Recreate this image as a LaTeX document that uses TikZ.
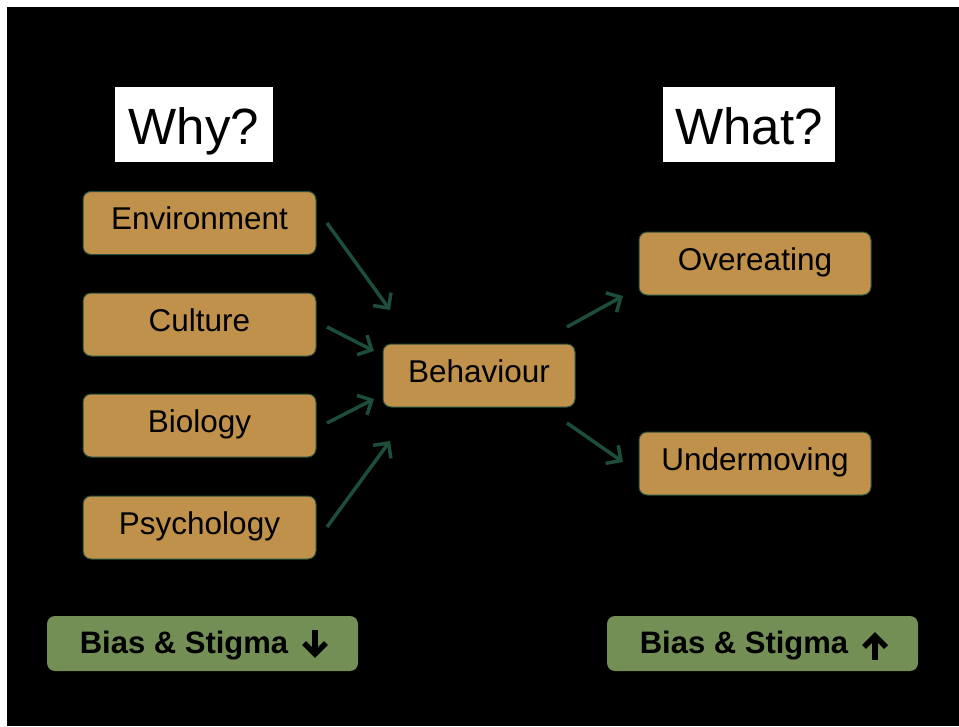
\documentclass[tikz,border=0pt]{standalone}
\usepackage{fontspec}
\setmainfont{Liberation Sans}
\usetikzlibrary{arrows.meta}
\definecolor{tan}{RGB}{192,145,74}
\definecolor{edgegreen}{RGB}{35,80,60}
\definecolor{arrowgreen}{RGB}{28,78,58}
\definecolor{biasgreen}{RGB}{115,143,86}
\tikzset{
  factor/.style={draw=edgegreen, line width=1pt, fill=tan, rounded corners=8pt,
    minimum width=233pt, minimum height=63pt, inner sep=0pt,
    text height=22pt, text depth=9pt,
    font=\fontsize{31.5}{36}\selectfont, text=black},
  headbox/.style={fill=white, inner sep=0pt, minimum height=75pt,
    text height=40pt, text depth=1pt,
    font=\fontsize{51}{60}\selectfont, text=black},
  biasbox/.style={fill=biasgreen, rounded corners=8pt, minimum width=311pt,
    minimum height=55pt, inner sep=0pt},
  biastext/.style={font=\fontsize{31}{36}\selectfont\bfseries, text=black, inner sep=0pt,
    text height=22pt, text depth=3pt},
  flow/.style={draw=arrowgreen, line width=3.5pt,
    -{Straight Barb[length=11pt,width=22pt,line width=3.5pt]}},
  bigarrow/.style={draw=black, line width=5.5pt, miter limit=10}
}
\begin{document}
\begin{tikzpicture}[x=1pt,y=-1pt]
\fill[white] (0,0) rectangle (959,726);
\fill[black] (7,7) rectangle (959,726);
\useasboundingbox (0,0) rectangle (959,726);

\node[headbox, minimum width=158pt] (why) at (194,124.5) {Why?};
\node[headbox, minimum width=172pt] (what) at (749,124.5) {What?};

\node[factor] (env) at (199.5,223) {Environment};
\node[factor] (cul) at (199.5,324.5) {Culture};
\node[factor] (bio) at (199.5,425.5) {Biology};
\node[factor] (psy) at (199.5,527.5) {Psychology};

\node[factor, minimum width=192pt] (beh) at (479,375.5) {Behaviour};

\node[factor, minimum width=232pt] (over) at (755,263.5) {Overeating};
\node[factor, minimum width=232pt] (under) at (755,463.5) {Undermoving};

% arrow end points
\coordinate (a1s) at (327,223); \coordinate (a1e) at (390,310);
\coordinate (a2s) at (327,327); \coordinate (a2e) at (374,351);
\coordinate (a3s) at (327,423); \coordinate (a3e) at (374,399);
\coordinate (a4s) at (327,527); \coordinate (a4e) at (390,441);
\coordinate (a5s) at (567,327); \coordinate (a5e) at (623,296);
\coordinate (a6s) at (567,423); \coordinate (a6e) at (623,462);
\draw[flow] (a1s) -- (a1e);
\draw[flow] (a2s) -- (a2e);
\draw[flow] (a3s) -- (a3e);
\draw[flow] (a4s) -- (a4e);
\draw[flow] (a5s) -- (a5e);
\draw[flow] (a6s) -- (a6e);

% bias boxes
\node[biasbox] (biasL) at (202.5,643.5) {};
\node[biastext] (biasLt) at (184,643.5) {Bias \& Stigma};
\node[biasbox] (biasR) at (762.5,643.5) {};
\node[biastext] (biasRt) at (744,643.5) {Bias \& Stigma};

% down arrow
\draw[bigarrow] (315,630) -- (315,654);
\draw[bigarrow] (304,643) -- (315,654) -- (326,643);
% up arrow
\draw[bigarrow] (875,660) -- (875,636);
\draw[bigarrow] (864,647) -- (875,636) -- (886,647);
\end{tikzpicture}
\end{document}
